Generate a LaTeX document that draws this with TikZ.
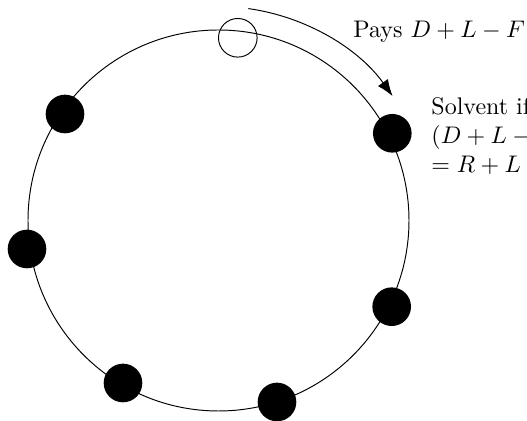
\documentclass[tikz,border=0pt]{standalone}
\usetikzlibrary{arrows.meta}
\begin{document}
\begin{tikzpicture}[x=0.41667pt,y=-0.41667pt,
  dot/.style={circle,fill=black,inner sep=0pt,minimum size=16.1pt},
  opendot/.style={circle,draw=black,fill=none,inner sep=0pt,minimum size=16.1pt},
  lbl/.style={inner sep=0pt,anchor=base west,font=\normalsize}]
\useasboundingbox (0,0) rectangle (527,421);
\coordinate (c) at (218.5,220.5);
\draw (c) circle[radius=190.5];
\node[opendot] (o) at (237.8,37.8) {};
\node[dot] (d1) at (392.3,133.3) {};
\node[dot] (d2) at (391.7,306.7) {};
\node[dot] (d3) at (277,402) {};
\node[dot] (d4) at (123,383) {};
\node[dot] (d5) at (27,249) {};
\node[dot] (d6) at (65,114) {};
\draw[-{Latex[length=6.9pt,width=5.1pt]}] ([shift={(-82.0:214)}]c) arc[start angle=-82.0,end angle=-35.55,radius=214];
\node[lbl] (pays) at (353,38) {Pays $D+L-F$};
\node[lbl] (solv) at (431,115) {\begin{tabular}[t]{@{}l@{}}Solvent if\\ $(D+L-F)(1+r)$\\ $=R+L+\dots$\end{tabular}};
\end{tikzpicture}
\end{document}
